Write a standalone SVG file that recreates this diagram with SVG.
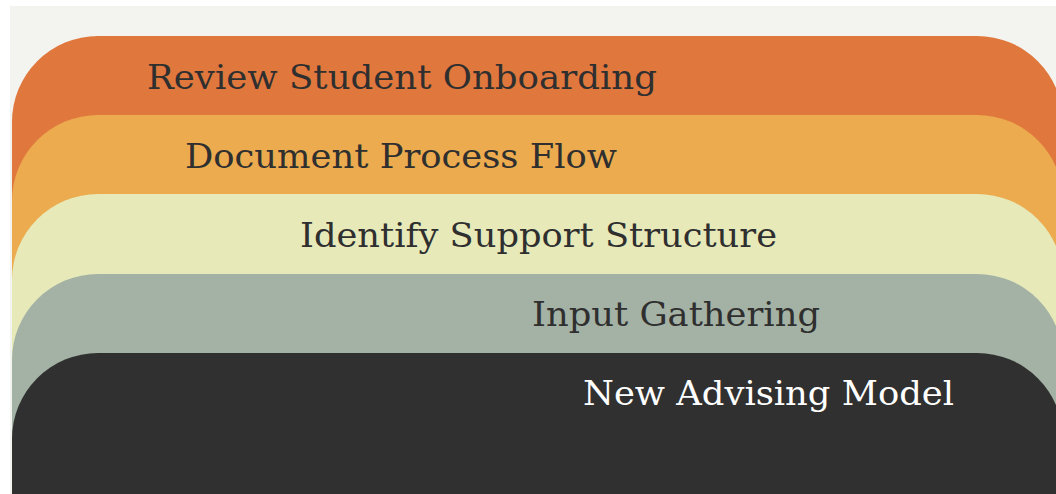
<svg xmlns="http://www.w3.org/2000/svg" width="1056" height="494" viewBox="0 0 1056 494">
  <style>
    .label { font-family: "DejaVu Serif", "Liberation Serif", serif; font-size: 34px; fill: #2f2f2f; }
    .label-light { fill: #ffffff; }
  </style>
  <!-- page and panel background -->
  <rect x="0" y="0" width="1056" height="494" fill="#ffffff"/>
  <rect x="10" y="6" width="1046" height="488" fill="#f3f4ef"/>

  <!-- stacked layers, each a tab with rounded top corners running off the bottom -->
  <g id="layer-review">
    <path d="M12 500 V122 A86 86 0 0 1 98 36 H977 A86 86 0 0 1 1063 122 V500 Z" fill="#e0773d"/>
    <text class="label" x="147" y="89" textLength="510" lengthAdjust="spacingAndGlyphs">Review Student Onboarding</text>
  </g>
  <g id="layer-document">
    <path d="M12 500 V201 A86 86 0 0 1 98 115 H977 A86 86 0 0 1 1063 201 V500 Z" fill="#ebab4e"/>
    <text class="label" x="185" y="168" textLength="432" lengthAdjust="spacingAndGlyphs">Document Process Flow</text>
  </g>
  <g id="layer-identify">
    <path d="M12 500 V280 A86 86 0 0 1 98 194 H977 A86 86 0 0 1 1063 280 V500 Z" fill="#e7e9b9"/>
    <text class="label" x="300" y="247" textLength="477" lengthAdjust="spacingAndGlyphs">Identify Support Structure</text>
  </g>
  <g id="layer-input">
    <path d="M12 500 V360 A86 86 0 0 1 98 274 H977 A86 86 0 0 1 1063 360 V500 Z" fill="#a3b2a4"/>
    <text class="label" x="532" y="326" textLength="288" lengthAdjust="spacingAndGlyphs">Input Gathering</text>
  </g>
  <g id="layer-model">
    <path d="M12 500 V439 A86 86 0 0 1 98 353 H977 A86 86 0 0 1 1063 439 V500 Z" fill="#303030"/>
    <text class="label label-light" x="583" y="405" textLength="371" lengthAdjust="spacingAndGlyphs">New Advising Model</text>
  </g>

  <!-- no connectors in this figure -->
  <g id="connectors"/>
</svg>
